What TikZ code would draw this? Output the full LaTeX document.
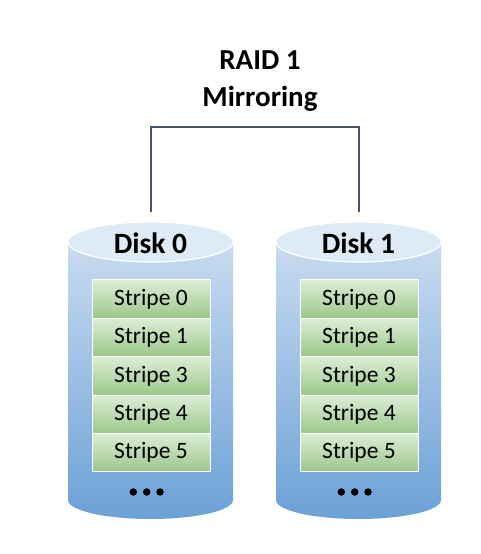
\documentclass[tikz,border=0pt]{standalone}
\usepackage{fontspec}
\setmainfont{Carlito}
\begin{document}
\begin{tikzpicture}[x=1pt,y=1pt,
  stripebox/.style={draw=white,line width=1pt,top color=stripetop,bottom color=stripebot,
    minimum width=118pt,minimum height=38.4pt,inner sep=0pt,font=\fontsize{23.5}{25}\selectfont},
  disklabel/.style={font=\fontsize{29.5}{32}\selectfont\bfseries,inner sep=0pt},
  dotnode/.style={circle,fill=black,minimum size=7.5pt,inner sep=0pt},
  link/.style={draw=linkc,line width=2pt}]
\definecolor{stripetop}{HTML}{DCEED5}
\definecolor{stripebot}{HTML}{9BC78A}
\definecolor{bodytop}{HTML}{C9DBF0}
\definecolor{bodybot}{HTML}{6CA1D7}
\definecolor{endc}{HTML}{DEEAF6}
\definecolor{linkc}{HTML}{44546A}
\useasboundingbox (0,0) rectangle (480,554);
\fill[white] (0,0) rectangle (480,554);
% title
\node[font=\fontsize{29}{37}\selectfont\bfseries,align=center,inner sep=0pt] (title) at (260,473) {RAID 1\\Mirroring};
% cylinders
\foreach \dx/\n in {0/0,208/1}{
  \begin{scope}[xshift=\dx pt]
  \shade[top color=bodytop,bottom color=bodybot]
    (68,312) -- (68,54) arc[start angle=180,end angle=360,x radius=82.5,y radius=19] -- (233,312) -- cycle;
  \draw[white,line width=1.2pt,fill=endc] (150.5,312) ellipse[x radius=82.5,y radius=20];
  \end{scope}
}
% disk labels
\node[disklabel] (disk0) at (150.5,311) {Disk 0};
\node[disklabel] (disk1) at (358.5,311) {Disk 1};
\coordinate (d0top) at (150.5,342);
\coordinate (d1top) at (358.5,342);
% stripes
\foreach \dx/\n in {0/0,208/1}{
  \node[stripebox] (s\n a) at (151+\dx,254.8) {Stripe 0};
  \node[stripebox] (s\n b) at (151+\dx,216.4) {Stripe 1};
  \node[stripebox] (s\n c) at (151+\dx,178.0) {Stripe 3};
  \node[stripebox] (s\n d) at (151+\dx,139.6) {Stripe 4};
  \node[stripebox] (s\n e) at (151+\dx,101.2) {Stripe 5};
  \node[dotnode] (dot\n a) at (133.3+\dx,62) {};
  \node[dotnode] (dot\n b) at (146.7+\dx,62) {};
  \node[dotnode] (dot\n c) at (160+\dx,62) {};
}
% connector
\draw[link] (d0top) -- ++(0,85) -| (d1top);
\end{tikzpicture}
\end{document}
